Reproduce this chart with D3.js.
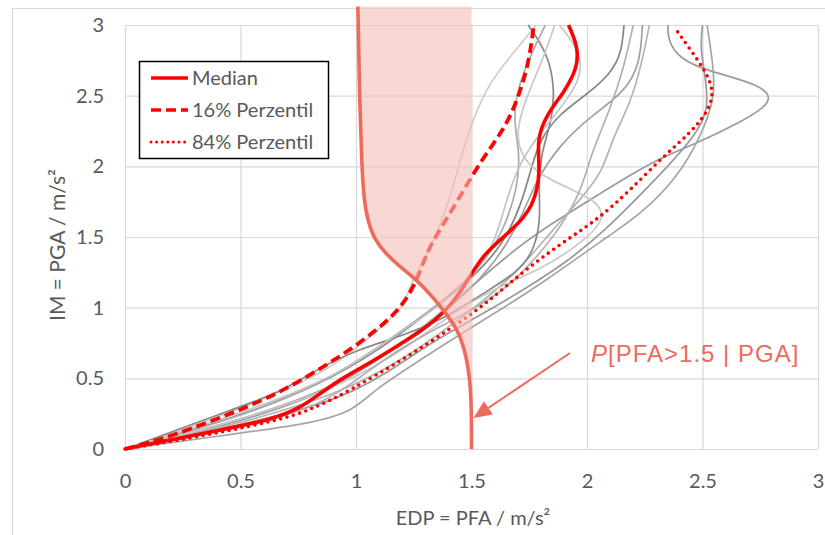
<!DOCTYPE html>
<html><head><meta charset="utf-8">
<script src="https://cdn.jsdelivr.net/npm/d3@7"></script>
<style>body{margin:0;background:#fff}svg{display:block}</style>
</head><body><svg id="c" width="825" height="535"></svg>
<script>
// ---------- data ([PFA, PGA] pairs) ----------
const xTickValues = [0, 0.5, 1, 1.5, 2, 2.5, 3];
const xTickLabels = ["0", "0.5", "1", "1.5", "2", "2.5", "3"];
const yTickValues = [0, 0.5, 1, 1.5, 2, 2.5, 3];
const yTickLabels = ["0", "0.5", "1", "1.5", "2", "2.5", "3"];

const median = [[0,0],[0.41,0.134],[0.63,0.205],[0.76,0.29],[0.85,0.40],[0.95,0.51],[1.05,0.60],[1.16,0.71],[1.29,0.84],[1.40,0.99],[1.48,1.18],[1.55,1.38],[1.67,1.54],[1.77,1.71],[1.80,1.97],[1.78,2.19],[1.83,2.38],[1.90,2.52],[1.96,2.70],[1.96,2.85],[1.92,3.0]];
const p16 = [[0,0],[0.195,0.085],[0.50,0.276],[0.67,0.40],[0.84,0.56],[1.01,0.74],[1.18,0.96],[1.26,1.17],[1.31,1.41],[1.37,1.57],[1.43,1.73],[1.54,2.04],[1.65,2.28],[1.71,2.52],[1.75,2.75],[1.77,3.0]];
const p84 = [[0,0],[0.30,0.08],[0.63,0.19],[0.80,0.27],[0.98,0.42],[1.20,0.63],[1.41,0.85],[1.58,1.05],[1.74,1.28],[1.93,1.50],[2.05,1.63],[2.18,1.82],[2.33,2.07],[2.45,2.24],[2.53,2.40],[2.55,2.54],[2.51,2.68],[2.45,2.82],[2.38,2.98]];

const records = [
  [[0,0],[0.45,0.17],[0.85,0.38],[1.15,0.68],[1.38,0.98],[1.55,1.22],[1.70,1.43],[1.87,1.62],[2.06,1.81],[2.20,1.95],[2.32,2.06],[2.47,2.16],[2.65,2.30],[2.82,2.46],[2.75,2.58],[2.53,2.67],[2.40,2.76],[2.35,2.89],[2.35,3.0]],
  [[0,0],[0.40,0.09],[0.81,0.18],[0.99,0.27],[1.08,0.42],[1.25,0.60],[1.42,0.78],[1.62,0.98],[1.83,1.20],[2.06,1.47],[2.24,1.67],[2.39,1.92],[2.49,2.2],[2.56,2.50],[2.54,2.78],[2.52,3.0]],
  [[0,0],[0.5,0.17],[0.9,0.33],[1.12,0.52],[1.32,0.75],[1.52,0.93],[1.72,1.12],[1.92,1.33],[2.08,1.55],[2.22,1.78],[2.35,2.0],[2.46,2.2],[2.53,2.40],[2.51,2.65],[2.49,2.85],[2.50,3.0]],
  [[0,0],[0.5,0.23],[0.85,0.46],[1.1,0.7],[1.3,0.95],[1.5,1.2],[1.64,1.45],[1.72,1.75],[1.76,2.0],[1.80,2.20],[1.88,2.37],[2.0,2.51],[2.10,2.65],[2.15,2.80],[2.16,3.0]],
  [[0,0],[0.45,0.18],[0.9,0.42],[1.2,0.75],[1.45,1.05],[1.62,1.35],[1.72,1.65],[1.78,1.90],[1.88,2.15],[2.02,2.36],[2.16,2.52],[2.23,2.72],[2.24,3.0]],
  [[0,0],[0.5,0.18],[0.95,0.40],[1.25,0.68],[1.5,0.98],[1.70,1.25],[1.85,1.55],[1.98,1.78],[2.07,1.97],[2.11,2.2],[2.19,2.45],[2.24,2.75],[2.27,3.0]],
  [[0,0],[0.4,0.22],[0.70,0.42],[0.9,0.58],[1.05,0.78],[1.15,0.92],[1.21,1.02],[1.23,1.15],[1.30,1.35],[1.37,1.6],[1.42,1.85],[1.46,2.1],[1.51,2.35],[1.58,2.6],[1.68,2.8],[1.78,3.0]],
  [[0,0],[0.5,0.30],[0.67,0.40],[0.84,0.57],[1.0,0.70],[1.2,0.80],[1.38,0.92],[1.55,1.1],[1.70,1.25],[1.77,1.40],[1.80,1.62],[1.79,1.85],[1.80,2.09],[1.85,2.33],[1.86,2.56],[1.83,2.80],[1.745,3.0]],
  [[0,0],[0.45,0.2],[0.85,0.45],[1.15,0.78],[1.38,1.05],[1.55,1.3],[1.64,1.55],[1.70,1.85],[1.71,2.09],[1.68,2.33],[1.70,2.56],[1.76,2.8],[1.82,3.0]],
  [[0,0],[0.5,0.2],[0.95,0.45],[1.25,0.75],[1.45,1.0],[1.62,1.15],[1.80,1.27],[1.97,1.45],[2.08,1.62],[2.05,1.75],[1.90,1.86],[1.75,1.98],[1.68,2.2],[1.74,2.5],[1.82,2.8],[1.86,3.0]],
  [[0,0],[0.6,0.3],[0.95,0.55],[1.15,0.78],[1.35,1.0],[1.5,1.2],[1.6,1.45],[1.64,1.7],[1.70,2.0],[1.78,2.2],[1.88,2.4],[1.97,2.6],[1.98,2.8],[1.88,3.0]],
  [[0,0],[0.5,0.15],[0.85,0.30],[1.05,0.55],[1.2,0.72],[1.38,0.88],[1.52,1.0],[1.66,1.15],[1.78,1.35],[1.90,1.6],[1.98,1.85],[2.02,2.1],[2.10,2.4],[2.16,2.7],[2.20,3.0]]
];
const recordColors = ["#9a9a9a","#a5a5a5","#999999","#858585","#a0a0a0","#b4b4b4","#cdcdcd","#888888","#ababab","#c8c8c8","#c4c4c4","#b0b0b0"];

// exceedance probability P[PFA>1.5 | PGA]
const probPGA = [0, 0.2, 0.35, 0.5, 0.65, 0.75, 0.84, 0.96, 1.08, 1.2, 1.29, 1.38, 1.48, 1.62, 1.76, 2.0, 2.5, 3.0, 3.13];
const probP   = [0, 0, 0.004, 0.015, 0.045, 0.08, 0.12, 0.22, 0.34, 0.48, 0.62, 0.74, 0.84, 0.90, 0.93, 0.95, 0.97, 0.98, 0.984];

const legendLabels = ["Median", "16% Perzentil", "84% Perzentil"];

// ---------- drawing ----------
const svg = d3.select("#c");
const font = "Lato, 'Open Sans', sans-serif";
const txt = "#595959";
const x = d3.scaleLinear().domain([0, 3]).range([125, 818]);
const y = d3.scaleLinear().domain([0, 3]).range([449, 25]);
const pScale = d3.scaleLinear().domain([0, 1]).range([x(1.5), x(1.0)]);

// outer chart frame
svg.append("rect").attr("x", 12.5).attr("y", 8.5).attr("width", 840).attr("height", 560)
  .attr("fill", "none").attr("stroke", "#d9d9d9").attr("stroke-width", 1);

// axes + grid
const gx = svg.append("g").attr("transform", `translate(0,${y(0)})`)
  .call(d3.axisBottom(x).tickValues(xTickValues).tickFormat((d, i) => xTickLabels[i])
    .tickSize(-(y(0) - y(3))).tickPadding(25));
const gy = svg.append("g").attr("transform", `translate(${x(0)},0)`)
  .call(d3.axisLeft(y).tickValues(yTickValues).tickFormat((d, i) => yTickLabels[i])
    .tickSize(-(x(3) - x(0))).tickPadding(21));
[gx, gy].forEach(g => {
  g.select(".domain").remove();
  g.selectAll("line").attr("stroke", "#d9d9d9").attr("stroke-width", 1.2);
  g.selectAll("text").attr("fill", txt).style("font-family", font).style("font-size", "20px");
});

// axis titles
svg.append("text").attr("x", 473).attr("y", 525).attr("text-anchor", "middle")
  .attr("fill", txt).style("font-family", font).style("font-size", "20px")
  .text("EDP = PFA / m/s²");
svg.append("text").attr("transform", "translate(65,245) rotate(-90)").attr("text-anchor", "middle")
  .attr("fill", txt).style("font-family", font).style("font-size", "21px")
  .text("IM = PGA / m/s²");

const line = d3.line().x(d => x(d[0])).y(d => y(d[1])).curve(d3.curveBasis);

// gray records
svg.append("g").selectAll("path").data(records).join("path")
  .attr("d", line).attr("fill", "none")
  .attr("stroke", (d, i) => recordColors[i]).attr("stroke-width", 1.7);

// red statistics
svg.append("path").attr("d", line(p84)).attr("fill", "none").attr("stroke", "#ff0000")
  .attr("stroke-width", 3.6).attr("stroke-linecap", "round").attr("stroke-dasharray", "0 6.6");
svg.append("path").attr("d", line(p16)).attr("fill", "none").attr("stroke", "#ff0000")
  .attr("stroke-width", 3.8).attr("stroke-dasharray", "10 5");
svg.append("path").attr("d", line(median)).attr("fill", "none").attr("stroke", "#ff0000")
  .attr("stroke-width", 3.6);

// probability overlay
const probData = probPGA.map((g, i) => [g, probP[i]]);
const area = d3.area().y(d => y(d[0])).x0(x(1.5)).x1(d => pScale(d[1])).curve(d3.curveBasis);
svg.append("path").attr("d", area(probData)).attr("fill", "rgb(245,188,182)").attr("fill-opacity", 0.6);
const pLine = d3.line().y(d => y(d[0])).x(d => pScale(d[1])).curve(d3.curveBasis);
svg.append("path").attr("d", pLine(probData)).attr("fill", "none").attr("stroke", "#ee6a5a")
  .attr("stroke-width", 3.6);

// annotation arrow + label
const salmon = "#ee6a5a";
const ax0 = 570, ay0 = 353, ax1 = x(1.5) + 2, ay1 = 418;
const ang = Math.atan2(ay1 - ay0, ax1 - ax0);
const hl = 18, hw = 8;
const bx = ax1 - hl * Math.cos(ang), by = ay1 - hl * Math.sin(ang);
svg.append("line").attr("x1", ax0).attr("y1", ay0).attr("x2", bx).attr("y2", by)
  .attr("stroke", salmon).attr("stroke-width", 2);
svg.append("path").attr("d", `M${ax1},${ay1}L${bx + hw * Math.sin(ang)},${by - hw * Math.cos(ang)}L${bx - hw * Math.sin(ang)},${by + hw * Math.cos(ang)}Z`)
  .attr("fill", salmon);
const lab = svg.append("text").attr("x", 591).attr("y", 362).attr("fill", salmon)
  .style("font-family", "'Liberation Sans', Arial, sans-serif").style("font-size", "24px")
  .style("letter-spacing", "1px");
lab.append("tspan").style("font-style", "italic").text("P");
lab.append("tspan").text("[PFA>1.5 | PGA]");

// legend
const lg = svg.append("g");
lg.append("rect").attr("x", 139.5).attr("y", 61.5).attr("width", 189).attr("height", 97)
  .attr("fill", "#fff").attr("stroke", "#000").attr("stroke-width", 1.5);
const legStyles = [{da: null, cap: "butt"}, {da: "10 5", cap: "butt"}, {da: "0 5.6", cap: "round"}];
legendLabels.forEach((t, i) => {
  const ly = 78 + i * 32;
  const l = lg.append("line").attr("x1", 151).attr("x2", 188).attr("y1", ly).attr("y2", ly)
    .attr("stroke", "#ff0000").attr("stroke-width", i === 2 ? 3 : 3.5).attr("stroke-linecap", legStyles[i].cap);
  if (legStyles[i].da) l.attr("stroke-dasharray", legStyles[i].da);
  lg.append("text").attr("x", 192).attr("y", ly + 7).attr("fill", txt)
    .style("font-family", font).style("font-size", "20px").text(t);
});
</script></body></html>
